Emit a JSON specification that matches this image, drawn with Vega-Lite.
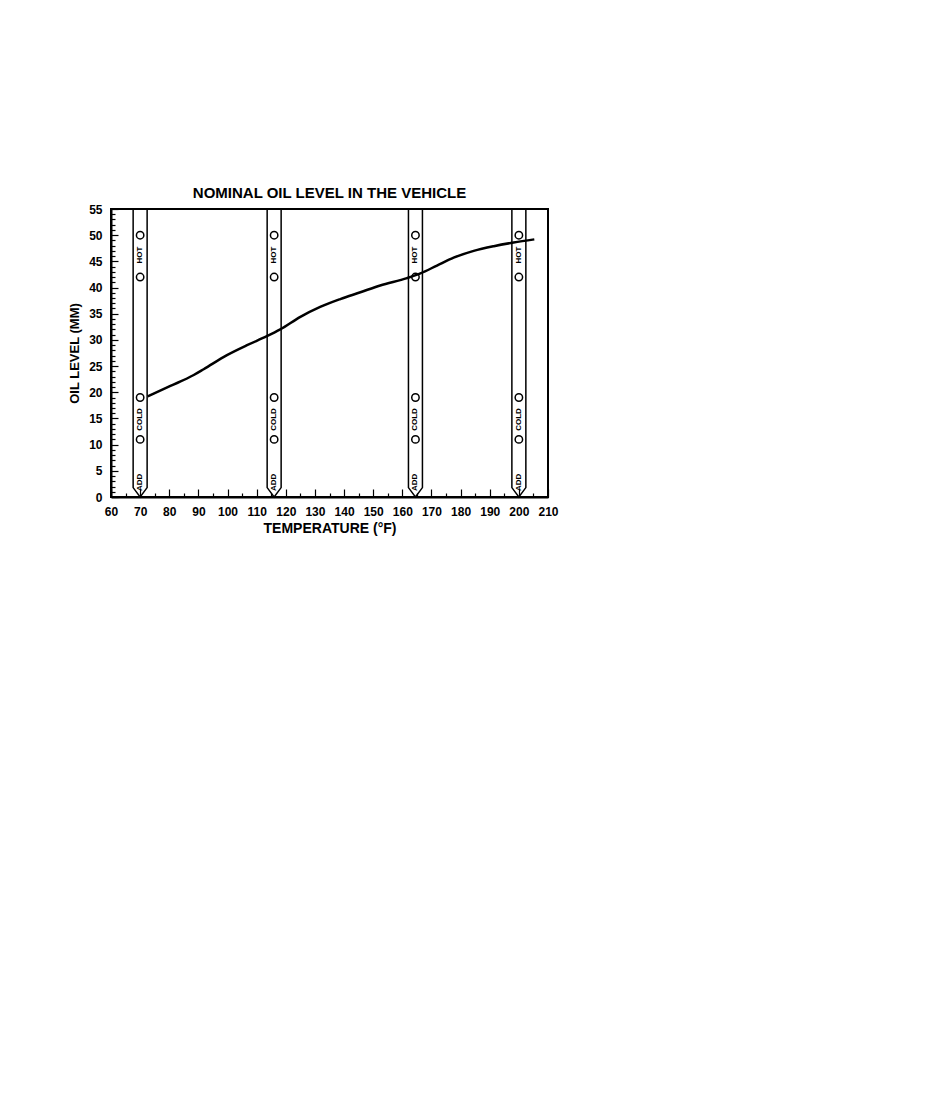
{
  "$schema": "https://vega.github.io/schema/vega-lite/v6.json",
  "description": "Nominal oil level in the vehicle against temperature, with dipstick marks",
  "autosize": {"type": "none"},
  "width": 437,
  "height": 288,
  "padding": {"left": 111, "top": 209, "right": 387, "bottom": 603},
  "background": "white",
  "title": {
    "text": "NOMINAL OIL LEVEL IN THE VEHICLE",
    "fontSize": 15,
    "fontWeight": "bold",
    "font": "Liberation Sans",
    "color": "black",
    "anchor": "middle",
    "offset": 2
  },
  "datasets": {
    "curve": [
      {"temp": 72.6, "level": 19.2},
      {"temp": 80.4, "level": 21.2},
      {"temp": 88.4, "level": 23.3},
      {"temp": 91.8, "level": 24.4},
      {"temp": 99.8, "level": 27.1},
      {"temp": 106.7, "level": 29.0},
      {"temp": 113.5, "level": 30.7},
      {"temp": 118.1, "level": 32.0},
      {"temp": 125.0, "level": 34.4},
      {"temp": 131.8, "level": 36.3},
      {"temp": 138.7, "level": 37.8},
      {"temp": 145.6, "level": 39.1},
      {"temp": 152.4, "level": 40.4},
      {"temp": 161.6, "level": 41.8},
      {"temp": 166.2, "level": 42.7},
      {"temp": 171.9, "level": 44.2},
      {"temp": 177.6, "level": 45.7},
      {"temp": 184.5, "level": 47.0},
      {"temp": 191.4, "level": 47.9},
      {"temp": 198.2, "level": 48.6},
      {"temp": 205.3, "level": 49.2}
    ],
    "sticks": [
      {"stick": "A", "step": 1, "temp": 67.6, "level": 55},
      {"stick": "A", "step": 2, "temp": 67.6, "level": 1.8},
      {"stick": "A", "step": 3, "temp": 70.0, "level": 0},
      {"stick": "A", "step": 4, "temp": 72.4, "level": 1.8},
      {"stick": "A", "step": 5, "temp": 72.4, "level": 55},
      {"stick": "B", "step": 1, "temp": 113.6, "level": 55},
      {"stick": "B", "step": 2, "temp": 113.6, "level": 1.8},
      {"stick": "B", "step": 3, "temp": 116.0, "level": 0},
      {"stick": "B", "step": 4, "temp": 118.4, "level": 1.8},
      {"stick": "B", "step": 5, "temp": 118.4, "level": 55},
      {"stick": "C", "step": 1, "temp": 162.1, "level": 55},
      {"stick": "C", "step": 2, "temp": 162.1, "level": 1.8},
      {"stick": "C", "step": 3, "temp": 164.5, "level": 0},
      {"stick": "C", "step": 4, "temp": 166.9, "level": 1.8},
      {"stick": "C", "step": 5, "temp": 166.9, "level": 55},
      {"stick": "D", "step": 1, "temp": 197.6, "level": 55},
      {"stick": "D", "step": 2, "temp": 197.6, "level": 1.8},
      {"stick": "D", "step": 3, "temp": 200.0, "level": 0},
      {"stick": "D", "step": 4, "temp": 202.4, "level": 1.8},
      {"stick": "D", "step": 5, "temp": 202.4, "level": 55}
    ],
    "holes": [
      {"temp": 70.0, "level": 50}, {"temp": 70.0, "level": 42}, {"temp": 70.0, "level": 19}, {"temp": 70.0, "level": 11},
      {"temp": 116.0, "level": 50}, {"temp": 116.0, "level": 42}, {"temp": 116.0, "level": 19}, {"temp": 116.0, "level": 11},
      {"temp": 164.5, "level": 50}, {"temp": 164.5, "level": 42}, {"temp": 164.5, "level": 19}, {"temp": 164.5, "level": 11},
      {"temp": 200.0, "level": 50}, {"temp": 200.0, "level": 42}, {"temp": 200.0, "level": 19}, {"temp": 200.0, "level": 11}
    ],
    "marks": [
      {"temp": 70.0, "level": 46.2, "label": "HOT"}, {"temp": 70.0, "level": 14.8, "label": "COLD"}, {"temp": 70.0, "level": 2.8, "label": "ADD"},
      {"temp": 116.0, "level": 46.2, "label": "HOT"}, {"temp": 116.0, "level": 14.8, "label": "COLD"}, {"temp": 116.0, "level": 2.8, "label": "ADD"},
      {"temp": 164.5, "level": 46.2, "label": "HOT"}, {"temp": 164.5, "level": 14.8, "label": "COLD"}, {"temp": 164.5, "level": 2.8, "label": "ADD"},
      {"temp": 200.0, "level": 46.2, "label": "HOT"}, {"temp": 200.0, "level": 14.8, "label": "COLD"}, {"temp": 200.0, "level": 2.8, "label": "ADD"}
    ]
  },
  "layer": [
    {
      "data": {"name": "sticks"},
      "mark": {"type": "line", "color": "black", "strokeWidth": 1.5},
      "encoding": {
        "detail": {"field": "stick", "type": "nominal"},
        "order": {"field": "step", "type": "quantitative"},
        "x": {
          "field": "temp", "type": "quantitative",
          "scale": {"domain": [60, 210], "nice": false, "zero": false},
          "axis": {"orient": "bottom", "values": [65, 75, 85, 95, 105, 115, 125, 135, 145, 155, 165, 175, 185, 195, 205], "tickSize": -4, "labels": false, "domain": false, "title": null}
        },
        "y": {
          "field": "level", "type": "quantitative",
          "scale": {"domain": [0, 55], "nice": false, "zero": true},
          "axis": {"orient": "left", "values": [1, 2, 3, 4, 6, 7, 8, 9, 11, 12, 13, 14, 16, 17, 18, 19, 21, 22, 23, 24, 26, 27, 28, 29, 31, 32, 33, 34, 36, 37, 38, 39, 41, 42, 43, 44, 46, 47, 48, 49, 51, 52, 53, 54], "tickSize": -4, "labels": false, "domain": false, "title": null}
        }
      }
    },
    {
      "data": {"name": "holes"},
      "mark": {"type": "point", "shape": "circle", "size": 55, "filled": false, "fill": "white", "stroke": "black", "strokeWidth": 1.5, "opacity": 1},
      "encoding": {
        "x": {"field": "temp", "type": "quantitative", "axis": null},
        "y": {"field": "level", "type": "quantitative", "axis": null}
      }
    },
    {
      "data": {"name": "marks"},
      "mark": {"type": "text", "angle": 270, "font": "Liberation Sans", "fontWeight": "bold", "fontSize": 8, "color": "black", "align": "center", "baseline": "middle"},
      "encoding": {
        "x": {"field": "temp", "type": "quantitative", "axis": null},
        "y": {"field": "level", "type": "quantitative", "axis": null},
        "text": {"field": "label", "type": "nominal"}
      }
    },
    {
      "data": {"name": "curve"},
      "mark": {"type": "line", "color": "black", "strokeWidth": 2.5, "interpolate": "monotone"},
      "encoding": {
        "x": {
          "field": "temp", "type": "quantitative",
          "axis": {"orient": "bottom", "values": [60, 70, 80, 90, 100, 110, 120, 130, 140, 150, 160, 170, 180, 190, 200, 210], "tickSize": -8, "labelPadding": 17, "titlePadding": 4, "title": "TEMPERATURE (°F)"}
        },
        "y": {
          "field": "level", "type": "quantitative",
          "axis": {"orient": "left", "values": [0, 5, 10, 15, 20, 25, 30, 35, 40, 45, 50, 55], "tickSize": -7, "labelPadding": 16, "titlePadding": 7, "title": "OIL LEVEL (MM)"}
        }
      }
    }
  ],
  "resolve": {"axis": {"x": "independent", "y": "independent"}},
  "config": {
    "view": {"stroke": "black", "strokeWidth": 2},
    "axis": {
      "domainColor": "black",
      "domainWidth": 2,
      "tickColor": "black",
      "tickWidth": 1.2,
      "grid": false,
      "labelFont": "Liberation Sans",
      "labelFontWeight": "bold",
      "labelFontSize": 12,
      "labelColor": "black",
      "labelOverlap": false,
      "labelFlush": false,
      "titleFont": "Liberation Sans",
      "titleFontWeight": "bold",
      "titleFontSize": 13,
      "titleColor": "black"
    },
    "axisX": {"titleFontSize": 14}
  }
}
